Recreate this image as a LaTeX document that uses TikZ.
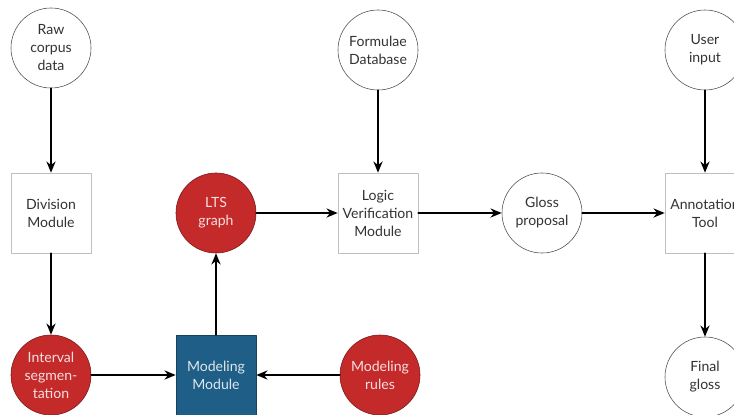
\documentclass[tikz,border=0pt]{standalone}
\usepackage{fontspec}
\setmainfont{Lato}
\usetikzlibrary{arrows.meta}
\definecolor{procred}{HTML}{C42A2A}
\definecolor{modblue}{HTML}{1F5E86}

\begin{document}
\begin{tikzpicture}[x=0.025cm,y=-0.025cm,line cap=round,line join=round,
  font=\fontsize{10}{12.8}\selectfont,
  data/.style={circle,draw=black!70,fill=white,minimum size=2cm,inner sep=1pt,align=center,text=black!80},
  module/.style={rectangle,draw=black!25,fill=white,minimum width=2cm,minimum height=2cm,align=center,text=black!80},
  stage/.style={circle,draw=procred!60!black,fill=procred,minimum size=2cm,inner sep=1pt,align=center,text=procred!15!white},
  core/.style={rectangle,draw=modblue!70!black,fill=modblue,minimum width=2cm,minimum height=2cm,align=center,text=modblue!15!white},
  flow/.style={-{Stealth[length=8pt,width=6.5pt]},line width=1.2pt}]
  \useasboundingbox (0,0) rectangle (734,414);
  \clip (0,0) rectangle (734,414);
  % top row
  \node[data] (raw) at (51,48) {Raw\\corpus\\data};
  \node[data] (formulae) at (378,50) {Formulae\\Database};
  \node[data] (user) at (705,50) {User\\input};
  % middle row
  \node[module] (division) at (51,213) {Division\\Module};
  \node[stage] (lts) at (216,213) {LTS\\graph};
  \node[module] (logic) at (378,213) {Logic\\Verification\\Module};
  \node[data] (gloss) at (542,213) {Gloss\\proposal};
  \node[module] (annot) at (705,213) {Annotation\\Tool};
  % bottom row
  \node[stage] (interval) at (51,375) {Interval\\segmen-\\tation};
  \node[core] (modeling) at (216,375) {Modeling\\Module};
  \node[stage] (rules) at (380,375) {Modeling\\rules};
  \node[data] (final) at (705,377) {Final\\gloss};
  \foreach \a/\b in {raw/division,division/interval,interval/modeling,rules/modeling,
    modeling/lts,lts/logic,formulae/logic,logic/gloss,gloss/annot,user/annot,annot/final}
    \draw[flow] (\a)--(\b);
\end{tikzpicture}
\end{document}
